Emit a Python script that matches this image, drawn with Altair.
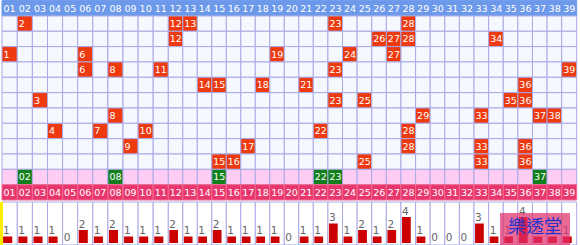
import altair as alt
import pandas as pd

# ---------------- data ----------------
columns = list(range(1, 40))
draws = [
    [2, 12, 13, 23, 28],
    [12, 26, 27, 28, 34],
    [1, 6, 19, 24, 27],
    [6, 8, 11, 23, 39],
    [14, 15, 18, 21, 36],
    [3, 23, 25, 35, 36],
    [8, 29, 33, 37, 38],
    [4, 7, 10, 22, 28],
    [9, 17, 28, 33, 36],
    [15, 16, 25, 33, 36],
]
special = [2, 8, 15, 22, 23, 37]
counts = [1, 1, 1, 1, 0, 2, 1, 2, 1, 1, 1, 2, 1, 1, 2, 1, 1, 1, 1, 0,
          1, 1, 3, 1, 2, 1, 2, 4, 1, 0, 0, 0, 3, 1, 1, 4, 1, 1, 1]
watermark = "樂透堂"

# ---------------- tables ----------------
n = len(draws)
SPECIAL_ROW = n + 1
FOOTER_ROW = n + 2

cells = []
for r in range(FOOTER_ROW + 1):
    for c in columns:
        if r == 0:
            kind, label = "head", f"{c:02d}"
        elif r == FOOTER_ROW:
            kind, label = "foot", f"{c:02d}"
        elif r == SPECIAL_ROW:
            if c in special:
                kind, label = "shit", f"{c:02d}"
            else:
                kind, label = "spec", ""
        else:
            if c in draws[r - 1]:
                kind, label = "hit", str(c)
            else:
                kind, label = "empty", ""
        cells.append(dict(c0=c - 1, c1=c, r0=r, r1=r + 1, rm=r + 0.5,
                          kind=kind, label=label))
cells = pd.DataFrame(cells)

bars = pd.DataFrame({
    "col": columns,
    "b0": [c - 1 + 0.07 for c in columns],
    "b1": [c - 1 + 0.67 for c in columns],
    "c0": [c - 1 for c in columns],
    "c1": columns,
    "count": counts,
})

# ---------------- scales ----------------
W = 580
TOP_H = 200
BOT_H = 45
FONT = "DejaVu Sans"
LINE = "#A9A9E6"

xscale = alt.Scale(domain=[0, 1, 11, 21, 38, 39],
                   range=[2, 17.3, 168.3, 313.3, 561.7, 576.7],
                   zero=False, nice=False)
yscale = alt.Scale(domain=[0, FOOTER_ROW + 1], range=[0.6, TOP_H],
                   zero=False, nice=False)

kinds = ["head", "foot", "spec", "shit", "hit", "empty"]
fills = ["#6C99EA", "#E8366C", "#FFCCF4", "#12801A", "#EE3A0E", "#F5F8FE"]
strokes = ["#6C99EA", "#F06A92", LINE, LINE, LINE, LINE]

base = alt.Chart(cells)
grid = base.mark_rect(strokeWidth=1).encode(
    x=alt.X("c0:Q", scale=xscale, axis=None),
    x2="c1:Q",
    y=alt.Y("r0:Q", scale=yscale, axis=None),
    y2="r1:Q",
    fill=alt.Fill("kind:N", scale=alt.Scale(domain=kinds, range=fills), legend=None),
    stroke=alt.Stroke("kind:N", scale=alt.Scale(domain=kinds, range=strokes), legend=None),
)
labels = base.transform_filter("datum.label != ''").mark_text(
    align="left", baseline="middle", dx=1.5, dy=0.5,
    font=FONT, fontSize=9.5, color="white",
).encode(
    x=alt.X("c0:Q", scale=xscale, axis=None),
    y=alt.Y("rm:Q", scale=yscale, axis=None),
    text="label:N",
)
top = alt.layer(grid, labels).properties(width=W, height=TOP_H)

# ---------------- bottom bar panel ----------------
byscale = alt.Scale(domain=[0, 4], range=[41, 15], zero=False, nice=False)
bb = alt.Chart(bars)
colbg = bb.mark_rect(fill="white", stroke=LINE, strokeWidth=1).encode(
    x=alt.X("c0:Q", scale=xscale, axis=None),
    x2="c1:Q",
    y=alt.value(0),
    y2=alt.value(43),
)
barm = bb.mark_rect(color="#CC0000").encode(
    x=alt.X("b0:Q", scale=xscale, axis=None),
    x2="b1:Q",
    y=alt.Y("count:Q", scale=byscale, axis=None),
    y2=alt.datum(0),
)
barlab = bb.mark_text(align="left", baseline="alphabetic", dy=-2.5,
                      font=FONT, fontSize=10.5, color="#666666").encode(
    x=alt.X("b0:Q", scale=xscale, axis=None),
    y=alt.Y("count:Q", scale=byscale, axis=None),
    text="count:Q",
)
deco = alt.Chart(pd.DataFrame({"t": [watermark]}))
yellow = deco.mark_rect(color="#FFEE00").encode(
    x=alt.value(0), x2=alt.value(3), y=alt.value(0), y2=alt.value(BOT_H)
)
wm_box = deco.mark_rect(color="#E2306E", opacity=0.72).encode(
    x=alt.value(500), x2=alt.value(570), y=alt.value(11), y2=alt.value(43)
)
wm_text = deco.mark_text(font="Noto Sans CJK TC", fontSize=18, color="#2233CC",
                         align="center", baseline="middle").encode(
    x=alt.value(535), y=alt.value(26), text="t:N"
)
bottom = alt.layer(colbg, barm, barlab, yellow, wm_box, wm_text).properties(
    width=W, height=BOT_H
)

chart = alt.vconcat(top, bottom, spacing=0).properties(
    padding=0, background="white"
).configure_view(stroke=None)

chart.save("out.html", embed_options={"renderer": "svg", "actions": False})
